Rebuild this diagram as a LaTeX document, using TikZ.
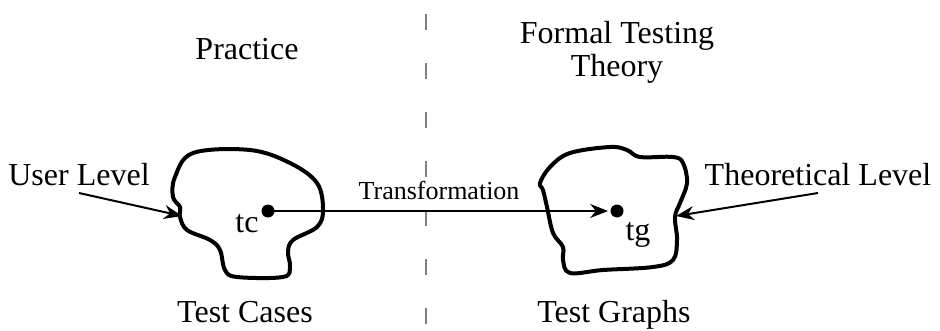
\documentclass[tikz,border=0pt]{standalone}
\usepackage{fontspec}
\setmainfont{Liberation Serif}
\usetikzlibrary{arrows.meta,positioning}
\definecolor{ink}{HTML}{000000}
\definecolor{divider}{HTML}{7F7F7F}
\tikzset{blob/.style={draw=ink,line width=2pt,line join=round},
  lbl/.style={font=\fontsize{16}{17}\selectfont,inner sep=0pt,anchor=base},
  small/.style={font=\fontsize{13}{15}\selectfont,inner sep=0pt},
  pt/.style={circle,fill=ink,inner sep=0pt,minimum size=6.5pt},
  link/.style={draw=ink,line width=1pt,-{Stealth[length=9pt,width=7pt]}},
  every picture/.style={>=Latex}}

\begin{document}
\begin{tikzpicture}[x=.5pt,y=-.5pt]
\useasboundingbox (0,0) rectangle (940,331);
% Dashed divider between the two worlds.
\draw[divider,line width=.6pt,dash pattern=on 8pt off 16.5pt] (426,14)--(426,331);
% Headings.
\node[lbl] (practice) at (247,60) {Practice};
\node[lbl] (formal) at (617,44) {Formal Testing};
\node[lbl] (theory) at ([yshift=-16.5pt]formal.base) {Theory};
% Test case domain.
\draw[blob] plot[smooth cycle,tension=.6] coordinates {(193,153) (250,150) (290,163) (317,183) (323,210) (317,227) (293,240) (288,252) (290,267) (283,277) (237,277) (225,270) (220,250) (210,240) (187,230) (180,217) (180,207) (173,197) (175,177)};
\node[pt] (tc) at (268,211) {};
\node[lbl] (tclab) at (247,232) {tc};
\node[lbl] (cases) at (245,322) {Test Cases};
% Test graph domain.
\draw[blob] plot[smooth cycle,tension=.6] coordinates {(540,183) (550,167) (570,153) (610,147) (627,150) (640,157) (673,157) (683,163) (687,183) (680,203) (675,217) (677,240) (673,260) (653,267) (603,270) (570,273) (563,260) (563,247) (553,233) (547,207) (543,190)};
\node[pt] (tg) at (617,211) {};
\node[lbl] (tglab) at (638,240) {tg};
\node[lbl] (graphs) at (614,322) {Test Graphs};
% Levels and the transformation.
\node[lbl] (user) at (79,185) {User Level};
\node[lbl] (theo) at (818,185) {Theoretical Level};
\coordinate (userout) at ([yshift=-4pt]user.base);
\coordinate (theoout) at ([yshift=-4pt]theo.base);
\coordinate (userin) at (182,216);
\coordinate (theoin) at (676,216);
\draw[link] (userout) -- (userin);
\draw[link] (theoout) -- (theoin);
\draw[link,shorten >=1pt] (tc.center) -- node[small,above=5pt] {Transformation} (tg.west);
\end{tikzpicture}
\end{document}
